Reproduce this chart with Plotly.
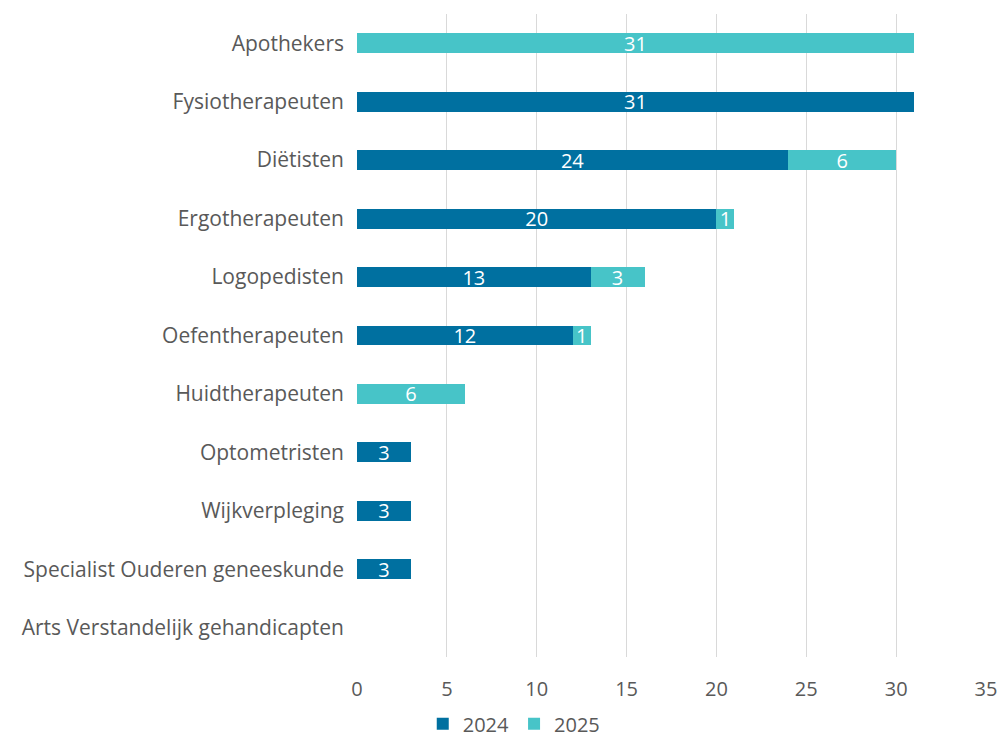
import plotly.graph_objects as go

categories = [
    "Apothekers", "Fysiotherapeuten", "Diëtisten", "Ergotherapeuten",
    "Logopedisten", "Oefentherapeuten", "Huidtherapeuten", "Optometristen",
    "Wijkverpleging", "Specialist Ouderen geneeskunde",
    "Arts Verstandelijk gehandicapten",
]
values_2024 = [None, 31, 24, 20, 13, 12, None, 3, 3, 3, None]
values_2025 = [31, None, 6, 1, 3, 1, 6, None, None, None, None]
x_ticks = [0, 5, 10, 15, 20, 25, 30, 35]

FONT = "Open Sans"
TEXT_COLOR = "#595959"
FS = 20


def labels(vals):
    return ["" if v is None else str(v) for v in vals]


fig = go.Figure()
for name, vals, color in [("2024", values_2024, "#0070a0"),
                          ("2025", values_2025, "#47c4c8")]:
    fig.add_trace(go.Bar(
        y=categories, x=vals, name=name, orientation="h",
        marker=dict(color=color, line=dict(width=0)),
        text=labels(vals), textposition="inside", textangle=0,
        insidetextanchor="middle",
        textfont=dict(color="white", size=FS, family=FONT),
        width=0.34,
    ))

# page body has an 8px margin, keep the figure inside the window (no clipping)
fig.update_layout(
    barmode="stack",
    width=990, height=733,
    margin=dict(l=349, r=12, t=6, b=84, autoexpand=False),
    paper_bgcolor="white", plot_bgcolor="white",
    font=dict(family=FONT, color=TEXT_COLOR, size=FS),
    uniformtext=dict(minsize=FS, mode="show"),
    legend=dict(orientation="h", yref="paper",
                x=0.25, xanchor="center", y=-0.104, yanchor="middle",
                traceorder="normal", itemwidth=30,
                font=dict(size=FS, color=TEXT_COLOR)),
    showlegend=True,
)
fig.update_xaxes(range=[0, 35], tickvals=x_ticks, showgrid=True,
                 gridcolor="#d9d9d9", gridwidth=1, zeroline=False,
                 showline=False, ticks="outside", ticklen=14,
                 tickcolor="rgba(0,0,0,0)", automargin=False)
fig.update_yaxes(categoryorder="array", categoryarray=categories,
                 autorange="reversed", showgrid=False, ticks="",
                 ticklabelstandoff=12, automargin=False,
                 tickfont=dict(size=21))

fig.write_html("out.html")
